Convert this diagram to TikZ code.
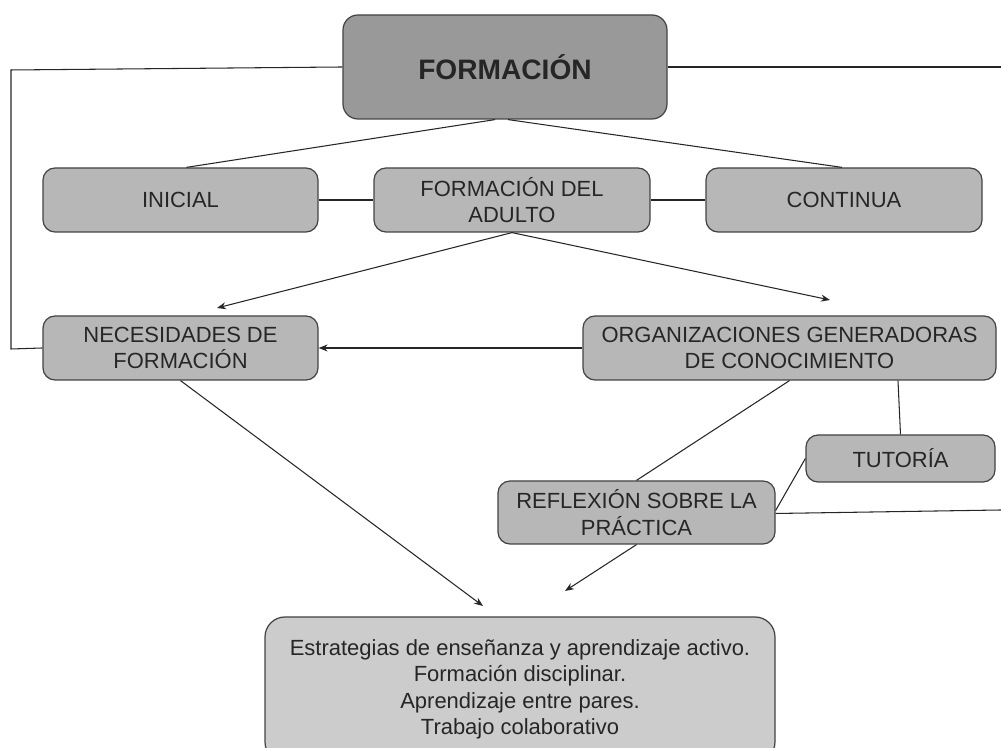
\documentclass[tikz,border=0pt]{standalone}
\usepackage{fontspec}
\setmainfont{Liberation Sans}
\usetikzlibrary{arrows.meta}
\definecolor{boxdark}{HTML}{999999}
\definecolor{boxmid}{HTML}{B7B7B7}
\definecolor{boxlight}{HTML}{CCCCCC}
\definecolor{rim}{HTML}{434343}
\newcommand{\txt}{\fontsize{12.5}{15}\selectfont}

\begin{document}
\begin{tikzpicture}[
    box/.style={draw=rim, line width=0.7pt, fill=boxmid, rounded corners=0.24cm,
      inner sep=0pt, align=center, font=\txt, text=black!85},
    link/.style={draw=black!85, line width=0.6pt},
    arr/.style={link, -{Stealth[length=1.8mm, width=1.4mm]}}]
  \useasboundingbox (0,0) rectangle (20.02,14.96);
  \node[box, fill=boxdark, minimum width=6.48cm, minimum height=2.08cm, rounded corners=0.3cm,
    font=\fontsize{16}{19}\selectfont\bfseries] (form) at (10.10,13.62) {FORMACIÓN};
  \node[box, minimum width=5.50cm, minimum height=1.28cm] (ini) at (3.61,10.96) {INICIAL};
  \node[box, minimum width=5.52cm, minimum height=1.28cm] (adulto) at (10.24,10.96) {FORMACIÓN DEL\\ADULTO};
  \node[box, minimum width=5.52cm, minimum height=1.28cm] (cont) at (16.88,10.96) {CONTINUA};
  \node[box, minimum width=5.50cm, minimum height=1.28cm] (nec) at (3.61,8.00) {NECESIDADES DE\\FORMACIÓN};
  \node[box, minimum width=8.26cm, minimum height=1.28cm] (org) at (15.79,8.00) {ORGANIZACIONES GENERADORAS\\DE CONOCIMIENTO};
  \node[box, minimum width=3.78cm, minimum height=0.94cm] (tut) at (18.01,5.79) {TUTORÍA};
  \node[box, minimum width=5.54cm, minimum height=1.26cm] (refl) at (12.73,4.71) {REFLEXIÓN SOBRE LA\\PRÁCTICA};
  \node[box, fill=boxlight, minimum width=10.20cm, minimum height=2.90cm, rounded corners=0.4cm] (estr) at (10.40,1.17)
    {Estrategias de enseñanza y aprendizaje activo.\\Formación disciplinar.\\Aprendizaje entre pares.\\Trabajo colaborativo};

  \coordinate (lt) at (0.22,13.56);
  \coordinate (lb) at (0.22,7.98);
  \coordinate (rt) at (20.02,13.62);
  \coordinate (rr) at (20.02,4.76);
  \coordinate (pnec) at (4.34,8.80);
  \coordinate (porg) at (16.60,8.96);
  \coordinate (pl) at (9.66,2.84);
  \coordinate (pr) at (11.30,3.14);

  \draw[link] (form.west) -- (lt) -- (lb) -- (nec.west);
  \draw[link] (form.east) -- (rt);
  \draw[link] ([xshift=-0.2cm]form.south) -- ([xshift=0.12cm]ini.north);
  \draw[link] ([xshift=0.06cm]form.south) -- ([xshift=-0.04cm]cont.north);
  \draw[link] (ini) -- (adulto);
  \draw[link] (adulto) -- (cont);
  \draw[arr] (adulto.south) -- (pnec);
  \draw[arr] (adulto.south) -- (porg);
  \draw[arr] (org) -- (nec);
  \draw[arr] (nec.south) -- (pl);
  \draw[link] (org.south) -- (refl.north);
  \draw[link] ([xshift=2.17cm]org.south) -- (tut.north);
  \draw[link] (tut.west) -- ([yshift=0.04cm]refl.east);
  \draw[link] ([yshift=-0.02cm]refl.east) -- (rr);
  \draw[arr] (refl.south) -- (pr);
\end{tikzpicture}
\end{document}
